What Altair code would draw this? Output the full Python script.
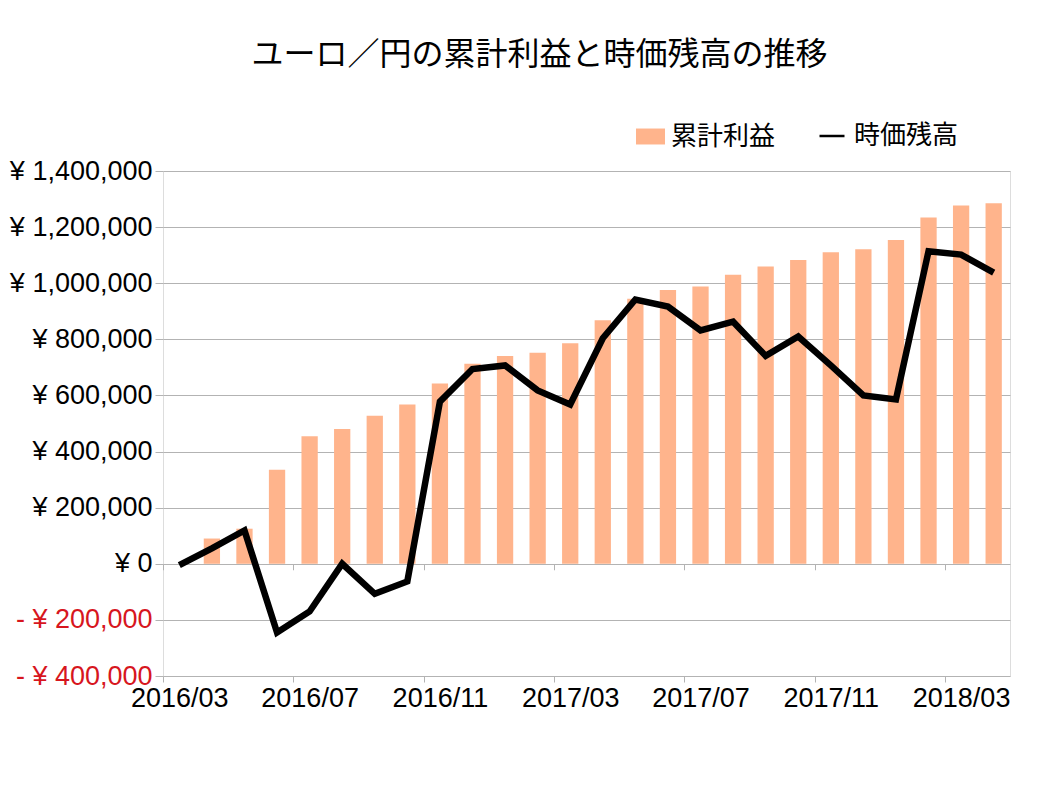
import altair as alt
import pandas as pd

months = ["2016/03", "2016/04", "2016/05", "2016/06", "2016/07", "2016/08", "2016/09", "2016/10",
          "2016/11", "2016/12", "2017/01", "2017/02", "2017/03", "2017/04", "2017/05", "2017/06",
          "2017/07", "2017/08", "2017/09", "2017/10", "2017/11", "2017/12", "2018/01", "2018/02",
          "2018/03", "2018/04"]
profit = [0, 90000, 125000, 335000, 455000, 480000, 528000, 568000, 643000, 713000,
          741000, 752000, 786000, 868000, 945000, 976000, 988000, 1030000, 1060000, 1083000,
          1110000, 1121000, 1154000, 1234000, 1277000, 1285000]
valuation = [-5000, 55000, 119000, -245000, -170000, 0, -107000, -63000, 578000, 694000,
             707000, 618000, 568000, 804000, 942000, 917000, 832000, 863000, 741000, 810000,
             707000, 600000, 586000, 1114000, 1102000, 1038000]
tick_months = ["2016/03", "2016/07", "2016/11", "2017/03", "2017/07", "2017/11", "2018/03"]
y_ticks = [-400000, -200000, 0, 200000, 400000, 600000, 800000, 1000000, 1200000, 1400000]
series_bar = "累計利益"
series_line = "時価残高"
title_text = "ユーロ／円の累計利益と時価残高の推移"

df = pd.DataFrame({"month": months, "profit": profit, "valuation": valuation,
                   "s1": series_bar, "s2": series_line})

W, H = 847, 505
STEP = W / len(months)
YMIN, YMAX = -400000, 1400000
ZERO_FROM_BOTTOM = H * (0 - YMIN) / (YMAX - YMIN)

ORANGE = "#ffb48c"
GRID = "#b3b3b3"
LATIN = "Liberation Sans, Arial, Noto Sans CJK JP"
CJK = "Noto Sans CJK JP"

xscale = alt.Scale(paddingInner=0, paddingOuter=0.001)
yscale = alt.Scale(domain=[YMIN, YMAX], nice=False, zero=False)

y_axis = alt.Axis(
    values=y_ticks,
    labelExpr="datum.value < 0 ? '- ¥ ' + format(-datum.value, ',') : '¥ ' + format(datum.value, ',')",
    labelColor={"condition": {"test": "datum.value < 0", "value": "#d7161e"}, "value": "#000000"},
    labelFontSize=27, labelFont=LATIN, labelPadding=3,
    ticks=True, tickSize=8, tickColor=GRID, domain=False,
    grid=True, gridColor=GRID, gridWidth=1, title=None,
)

bars = alt.Chart(df).mark_bar(width={"band": 0.5}).encode(
    x=alt.X("month:O", sort=None, scale=xscale, title=None,
            axis=alt.Axis(values=tick_months, tickOffset=-STEP / 2, labelOffset=STEP / 2,
                          labelAngle=0, ticks=True, tickSize=6, tickColor=GRID,
                          domain=False, grid=False, labelFontSize=27, labelFont=LATIN,
                          labelColor="#000000", labelPadding=3, labelBound=False,
                          labelOverlap=False, labelFlush=False)),
    y=alt.Y("profit:Q", scale=yscale, axis=y_axis),
    fill=alt.Fill("s1:N", scale=alt.Scale(domain=[series_bar], range=[ORANGE]),
                  legend=alt.Legend(title=None, orient="none", legendX=473, legendY=-49,
                                    symbolType="M-1,-0.55H1V0.55H-1Z", symbolSize=841,
                                    symbolStrokeWidth=0, labelFontSize=26, labelFont=CJK,
                                    labelColor="#000000", labelOffset=6)),
)

line = alt.Chart(df).mark_line(strokeWidth=6.5, strokeJoin="miter").encode(
    x=alt.X("month:O", sort=None, scale=xscale, title=None,
            axis=alt.Axis(orient="bottom", offset=-ZERO_FROM_BOTTOM, values=tick_months,
                          tickOffset=-STEP / 2, labels=False, ticks=True, tickSize=6,
                          tickColor=GRID, domain=False, grid=False)),
    y=alt.Y("valuation:Q", scale=yscale, axis=y_axis),
    stroke=alt.Stroke("s2:N", scale=alt.Scale(domain=[series_line], range=["#000000"]),
                      legend=alt.Legend(title=None, orient="none", legendX=655, legendY=-49,
                                        symbolType="stroke", symbolSize=625,
                                        symbolStrokeWidth=2.5, labelFontSize=26,
                                        labelFont=CJK, labelColor="#000000", labelOffset=8)),
)

chart = alt.layer(bars, line).resolve_axis(x="independent").resolve_scale(
    fill="independent", stroke="independent"
).properties(
    width=W, height=H,
    title=alt.TitleParams(title_text, fontSize=32, font=CJK, fontWeight="normal",
                          color="#000000", anchor="middle", offset=50, dx=-47),
    autosize=alt.AutoSizeParams(type="none"),
    padding={"left": 155, "top": 163, "right": 30, "bottom": 90},
).configure_view(stroke=GRID, strokeWidth=1).configure(background="white")

chart.save("out.html", embed_options={"renderer": "svg", "actions": False})
